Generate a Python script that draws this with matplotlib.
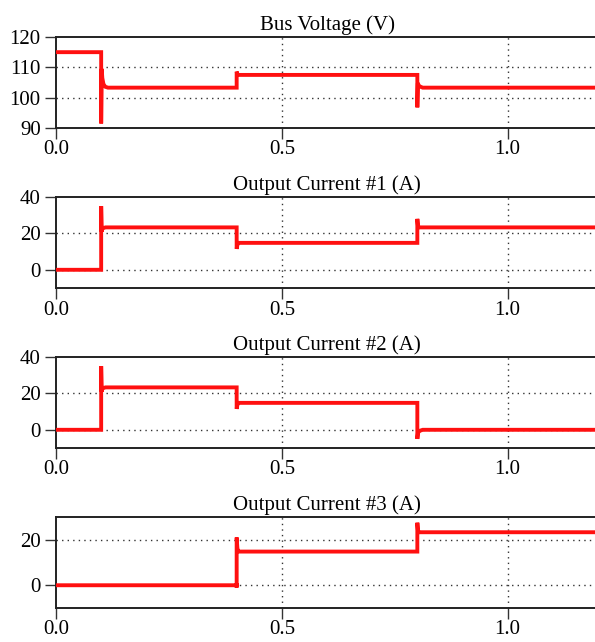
import matplotlib.pyplot as plt

plt.rcParams['font.family'] = ['Liberation Serif', 'DejaVu Serif']

# breakpoints (time in s)
bus_t = [0.0, 0.1, 0.1, 0.1012, 0.1025, 0.105, 0.109, 0.115, 0.4, 0.4, 0.4015, 0.404,
         0.8, 0.8, 0.8012, 0.803, 0.807, 0.812, 1.2]
bus_v = [115.0, 115.0, 91.5, 109.5, 106.5, 104.5, 103.6, 103.3, 103.3, 108.6, 107.8, 107.5,
         107.5, 96.8, 104.8, 104.0, 103.6, 103.3, 103.3]

i1_t = [0.0, 0.1, 0.1, 0.1012, 0.1025, 0.105, 0.11, 0.4, 0.4, 0.402, 0.405,
        0.8, 0.8, 0.8015, 0.804, 1.2]
i1_v = [0.0, 0.0, 35.0, 21.0, 22.5, 23.0, 23.3, 23.3, 11.5, 14.2, 14.8,
        14.8, 28.0, 23.8, 23.3, 23.3]

i2_t = [0.0, 0.1, 0.1, 0.1012, 0.1025, 0.105, 0.11, 0.4, 0.4, 0.402, 0.405,
        0.8, 0.8, 0.8015, 0.806, 0.812, 1.2]
i2_v = [0.0, 0.0, 35.0, 21.0, 22.5, 23.0, 23.3, 23.3, 11.5, 14.2, 14.8,
        14.8, -5.0, -1.5, -0.5, 0.0, 0.0]

i3_t = [0.0, 0.4, 0.4, 0.4, 0.4015, 0.403, 0.406, 0.8, 0.8, 0.8015, 0.804, 1.2]
i3_v = [0.0, 0.0, -1.0, 21.0, 16.5, 15.0, 14.8, 14.8, 27.5, 23.8, 23.3, 23.3]

titles = ["Bus Voltage (V)", "Output Current #1 (A)", "Output Current #2 (A)", "Output Current #3 (A)"]
series = [(bus_t, bus_v), (i1_t, i1_v), (i2_t, i2_v), (i3_t, i3_v)]
ylims = [(90, 120), (-10, 40), (-10, 40), (-10, 30)]
yticks = [[90, 100, 110, 120], [0, 20, 40], [0, 20, 40], [0, 20]]
xticks = [0.0, 0.5, 1.0]

fig = plt.figure(figsize=(5.95, 6.42), dpi=100)
tops = [37, 197, 357, 517]
h = 91

for k in range(4):
    top = tops[k]
    ax = fig.add_axes([56 / 595, 1 - (top + h) / 642, 542 / 595, h / 642])
    t, v = series[k]
    ax.plot(t, v, color='#ff1010', lw=2.8, solid_joinstyle='miter', zorder=3)
    ax.set_xlim(0, 1.2)
    ax.set_ylim(*ylims[k])
    ax.set_xticks(xticks)
    ax.set_xticklabels([f"{x:.1f}" for x in xticks])
    ax.set_yticks(yticks[k])
    ax.set_title(titles[k], fontsize=15, pad=5)
    ax.tick_params(labelsize=15, length=8, width=1.0, color='#333333', pad=3)
    ax.tick_params(axis='x', pad=1)
    ax.spines['right'].set_visible(False)
    for s in ['left', 'top', 'bottom']:
        ax.spines[s].set_linewidth(1.4)
        ax.spines[s].set_color('#222222')
    lo, hi = ylims[k]
    for y in yticks[k]:
        if lo < y < hi:
            ax.axhline(y, color='#333333', ls=(0, (1, 3)), lw=1.0, zorder=1)
    for x in xticks:
        if 0 < x < 1.2:
            ax.axvline(x, color='#333333', ls=(0, (1, 3)), lw=1.0, zorder=1)

fig.savefig("out.png", dpi=100)
